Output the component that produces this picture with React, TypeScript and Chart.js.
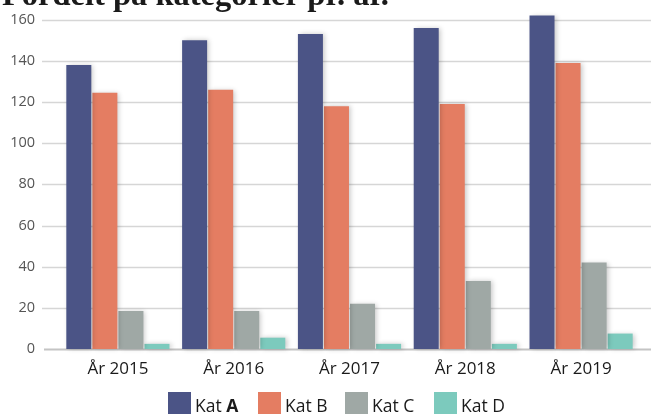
import React, { useEffect, useRef } from "react";
import { Chart, registerables } from "chart.js";

Chart.register(...registerables);

const title = "Fordelt på kategorier pr. år.";
const categories = ["År 2015", "År 2016", "År 2017", "År 2018", "År 2019"];
const seriesNames = ["Kat A", "Kat B", "Kat C", "Kat D"];
const katA = [138, 150, 153, 156, 162];
const katB = [124.5, 126, 118, 119, 139];
const katC = [18.5, 18.5, 22, 33, 42];
const katD = [2.5, 5.5, 2.5, 2.5, 7.5];
const colors = ["#4b5486", "#e47d62", "#9fa8a5", "#7ccabd"];
const yTicks = [0, 20, 40, 60, 80, 100, 120, 140, 160];

const gridPlugin = {
  id: "customGrid",
  beforeDatasetsDraw(chart: any) {
    const ctx = chart.ctx;
    const y = chart.scales.y;
    ctx.save();
    for (const v of yTicks) {
      const py = Math.round(y.getPixelForValue(v)) + 0.5;
      ctx.beginPath();
      ctx.strokeStyle = v === 0 ? "#c4c4c4" : "#d6d6d6";
      ctx.lineWidth = v === 0 ? 2 : 1.5;
      ctx.moveTo(v === 0 ? 44 : 42, py);
      ctx.lineTo(chart.width, py);
      ctx.stroke();
    }
    ctx.restore();
  },
};

const shadowPlugin = {
  id: "barShadow",
  beforeDatasetsDraw(chart: any) {
    const ctx = chart.ctx;
    ctx.save();
    ctx.shadowColor = "rgba(0,0,0,0.22)";
    ctx.shadowBlur = 5;
    ctx.shadowOffsetX = 2;
    ctx.shadowOffsetY = 0;
  },
  afterDatasetsDraw(chart: any) {
    chart.ctx.restore();
  },
};

export default function App() {
  const ref = useRef<HTMLCanvasElement | null>(null);
  useEffect(() => {
    if (!ref.current) return;
    const data = [katA, katB, katC, katD];
    const chart = new Chart(ref.current, {
      type: "bar",
      data: {
        labels: categories,
        datasets: seriesNames.map((n, i) => ({
          label: n,
          data: data[i],
          backgroundColor: colors[i],
          borderWidth: 0,
          clip: false as any,
          categoryPercentage: 0.9,
          barPercentage: 0.96,
        })),
      },
      plugins: [gridPlugin, shadowPlugin],
      options: {
        animation: false,
        responsive: false,
        layout: { padding: { left: 0, right: 12, top: 0, bottom: 0 } },
        plugins: { legend: { display: false }, tooltip: { enabled: false }, title: { display: false } },
        scales: {
          x: {
            grid: { display: false, drawTicks: false },
            border: { display: false },
            ticks: {
              padding: 10,
              color: "#1a1a1a",
              font: { family: "'Open Sans', sans-serif", size: 17 },
            },
            afterFit(scale: any) {
              scale.height = 65;
            },
          },
          y: {
            min: 0,
            max: 160,
            grid: { display: false, drawTicks: false },
            border: { display: false },
            ticks: {
              stepSize: 20,
              padding: 25,
              color: "#555555",
              font: { family: "'Open Sans', sans-serif", size: 14.5 },
            },
            afterFit(scale: any) {
              scale.width = 60;
            },
          },
        },
      },
    });
    return () => chart.destroy();
  }, []);

  const legendX = [168, 258, 345, 434];
  return (
    <div style={{ position: "fixed", left: 0, top: 0, width: 651, height: 414, overflow: "hidden", background: "#fff" }}>
      <canvas ref={ref} width={651} height={428} style={{ position: "absolute", left: 0, top: -14 }} />
      <div
        style={{
          position: "absolute",
          left: 2,
          top: -24,
          fontFamily: "'Liberation Serif', serif",
          fontWeight: "bold",
          fontSize: 32.5,
          color: "#1a1a1a",
          whiteSpace: "nowrap",
        }}
      >
        {title}
      </div>
      {seriesNames.map((n, i) => (
        <div key={n} style={{ position: "absolute", left: legendX[i], top: 392, height: 26, display: "flex", alignItems: "flex-start" }}>
          <div style={{ width: 23, height: 26, background: colors[i] }} />
          <div style={{ marginLeft: 4, marginTop: 1, fontFamily: "'Open Sans', sans-serif", fontSize: 17.5, color: "#1a1a1a", lineHeight: "24px" }}>
            {i === 0 ? (
              <>
                Kat <b>A</b>
              </>
            ) : (
              n
            )}
          </div>
        </div>
      ))}
    </div>
  );
}
